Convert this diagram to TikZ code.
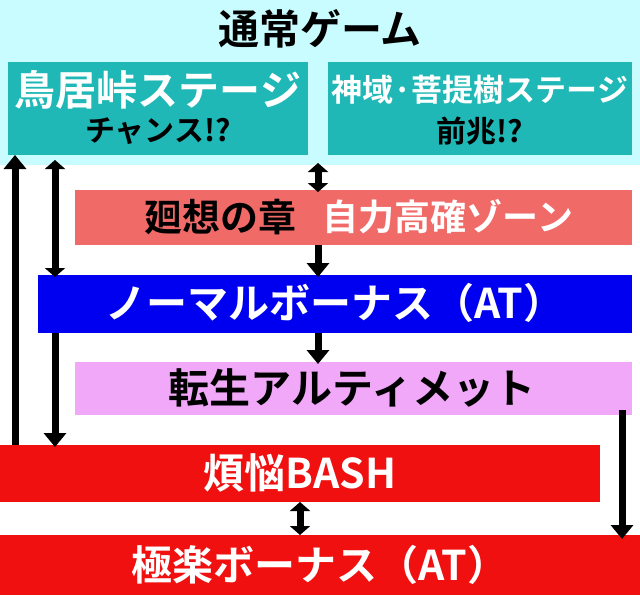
\documentclass[tikz,border=0pt]{standalone}
\usepackage{fontspec}
\newfontfamily\jp{Noto Sans CJK JP}[BoldFont={* Bold}]
\usetikzlibrary{arrows.meta}
\definecolor{skyc}{HTML}{C8FCFF}
\definecolor{tealc}{HTML}{1FB8B6}
\definecolor{salmonc}{HTML}{F06A68}
\definecolor{bluec}{HTML}{0000F0}
\definecolor{pinkc}{HTML}{F2A8F8}
\definecolor{redc}{HTML}{F01010}
\tikzset{
  lbl/.style={font=\jp\bfseries\fontsize{41}{44}\selectfont},
  mid/.style={font=\jp\bfseries\fontsize{31}{34}\selectfont},
  sub/.style={font=\jp\bfseries\fontsize{30}{32}\selectfont},
  flow/.style={line width=7pt, -{Triangle[width=22pt,length=14pt]}},
  both/.style={line width=7pt, {Triangle[width=20pt,length=9pt]}-{Triangle[width=20pt,length=9pt]}}
}
\begin{document}
\begin{tikzpicture}[x=1pt,y=-1pt]
\useasboundingbox (0,0) rectangle (640,595);
% bands
\fill[skyc] (0,0) rectangle (640,165);
\node[lbl] (title) at (320,29) {通常ゲーム};
\fill[tealc] (8,62) rectangle (308,155);
\fill[tealc] (328,62) rectangle (632,155);
\node[lbl, white] (tori) at (158,90) {鳥居峠ステージ};
\node[sub] at (158,131) {チャンス!?};
\node[mid, white] (shin) at (480,90) {神域·菩提樹ステージ};
\node[sub] at (480,131) {前兆!?};
\fill[salmonc] (75,190) rectangle (632,245);
\node[lbl, font=\jp\bfseries\fontsize{38}{40}\selectfont] at (220,217) {廻想の章};
\node[lbl, white, font=\jp\bfseries\fontsize{36}{40}\selectfont] at (448,217) {自力高確ゾーン};
\fill[bluec] (38,275) rectangle (632,333);
\node[lbl, white] at (335,303) {ノーマルボーナス（AT）};
\fill[pinkc] (75,362) rectangle (632,415);
\node[lbl] at (352,388) {転生アルティメット};
\fill[redc] (0,445) rectangle (600,502);
\node[lbl, white] at (300,473) {煩悩BASH};
\fill[redc] (0,535) rectangle (640,595);
\node[lbl, white] at (320,565) {極楽ボーナス（AT）};
% arrows
\coordinate (a1) at (15,445); \coordinate (a2) at (15,155);
\draw[flow] (a1) -- (a2);
\coordinate (b1) at (55,160); \coordinate (b2) at (55,277);
\draw[both] (b1) -- (b2);
\coordinate (c1) at (55,333); \coordinate (c2) at (55,447);
\draw[flow] (c1) -- (c2);
\coordinate (d1) at (318,163); \coordinate (d2) at (318,192);
\draw[both] (d1) -- (d2);
\coordinate (e1) at (318,245); \coordinate (e2) at (318,277);
\draw[flow] (e1) -- (e2);
\coordinate (f1) at (318,333); \coordinate (f2) at (318,364);
\draw[flow] (f1) -- (f2);
\coordinate (g1) at (300,502); \coordinate (g2) at (300,535);
\draw[both] (g1) -- (g2);
\coordinate (h1) at (622,410); \coordinate (h2) at (622,539);
\draw[flow] (h1) -- (h2);
\end{tikzpicture}
\end{document}
